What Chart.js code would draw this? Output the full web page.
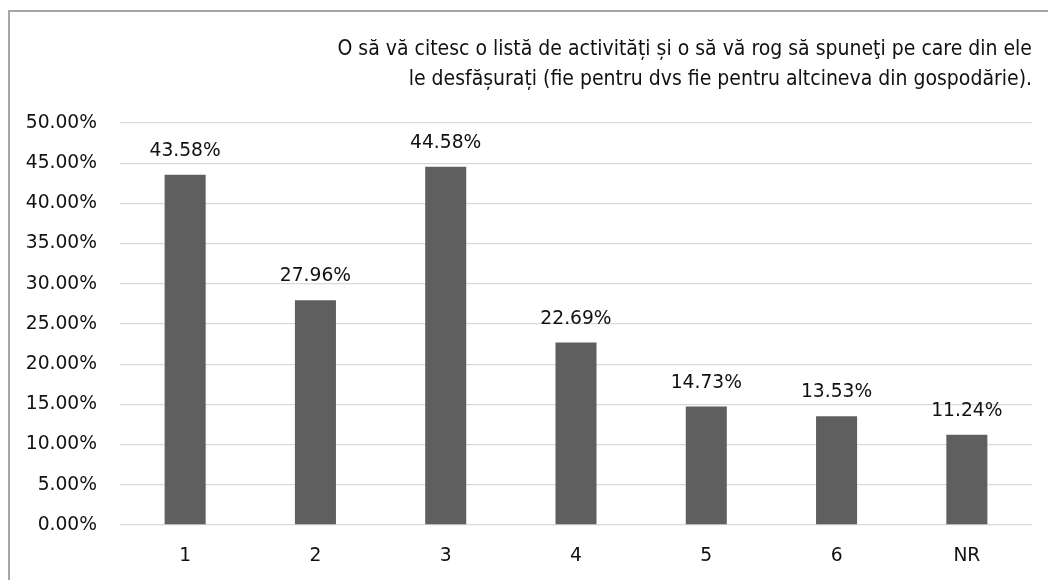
<!DOCTYPE html>
<html>
<head>
<meta charset="utf-8">
<script src="https://cdn.jsdelivr.net/npm/chart.js@4.4.1/dist/chart.umd.min.js"></script>
<style>
  html, body { margin: 0; padding: 0; background: #ffffff; overflow: hidden; }
  #wrap { position: relative; width: 1048px; height: 580px; }
  #frame {
    position: absolute; left: 8px; top: 10px; width: 1100px; height: 640px;
    border: 2px solid #a6a6a6; box-sizing: border-box;
  }
  canvas { position: absolute; left: 0; top: 0; }
</style>
</head>
<body>
<div id="wrap">
  <div id="frame"></div>
  <canvas id="chart" width="1048" height="580"></canvas>
</div>
<script>
// Categories, values (percent) and axis ticks
const categories = ['1', '2', '3', '4', '5', '6', 'NR'];
const shares = [43.58, 27.96, 44.58, 22.69, 14.73, 13.53, 11.24];
const yTicks = [0, 5, 10, 15, 20, 25, 30, 35, 40, 45, 50];
const titleLines = [
  'O să vă citesc o listă de activități și o să vă rog să spuneţi pe care din ele',
  'le desfășurați (fie pentru dvs fie pentru altcineva din gospodărie).'
];

const labelFont = "'DejaVu Sans', sans-serif";
const titleFont = "'Liberation Sans Narrow', 'DejaVu Sans Condensed', 'Open Sans', sans-serif";

// Writes each bar's value above it
const valueLabels = {
  id: 'valueLabels',
  afterDatasetsDraw(chart) {
    const ctx = chart.ctx;
    const meta = chart.getDatasetMeta(0);
    ctx.save();
    ctx.font = '18.7px ' + labelFont;
    ctx.fillStyle = '#111111';
    ctx.textAlign = 'center';
    ctx.textBaseline = 'alphabetic';
    meta.data.forEach((bar, i) => {
      ctx.fillText(shares[i].toFixed(2) + '%', bar.x, bar.y - 19);
    });
    ctx.restore();
  }
};

new Chart(document.getElementById('chart'), {
  type: 'bar',
  data: {
    labels: categories,
    datasets: [{
      data: shares,
      backgroundColor: '#5f5f5f',
      borderWidth: 0,
      categoryPercentage: 1,
      barPercentage: 0.315
    }]
  },
  options: {
    responsive: false,
    animation: false,
    devicePixelRatio: 1,
    layout: { padding: { left: 0, right: 16, top: 0, bottom: 0 } },
    plugins: {
      legend: { display: false },
      tooltip: { enabled: false },
      title: {
        display: true,
        text: titleLines,
        align: 'end',
        color: '#111111',
        font: { family: titleFont, size: 21, weight: 'normal', lineHeight: 1.43 },
        padding: { top: 35, bottom: 28 }
      }
    },
    scales: {
      x: {
        grid: { display: false, drawTicks: false },
        border: { display: false },
        ticks: { color: '#111111', font: { family: labelFont, size: 18.7 }, padding: 20 },
        afterFit(scale) { scale.height = 55; }
      },
      y: {
        min: 0,
        max: 50,
        afterBuildTicks(scale) { scale.ticks = yTicks.map(v => ({ value: v })); },
        grid: { color: '#d9d9d9', lineWidth: 1.3, drawTicks: false },
        border: { display: false },
        ticks: {
          color: '#111111',
          font: { family: labelFont, size: 18.7 },
          padding: 23,
          callback: v => Number(v).toFixed(2) + '%'
        },
        afterFit(scale) { scale.width = 120; }
      }
    }
  },
  plugins: [valueLabels]
});
</script>
</body>
</html>
